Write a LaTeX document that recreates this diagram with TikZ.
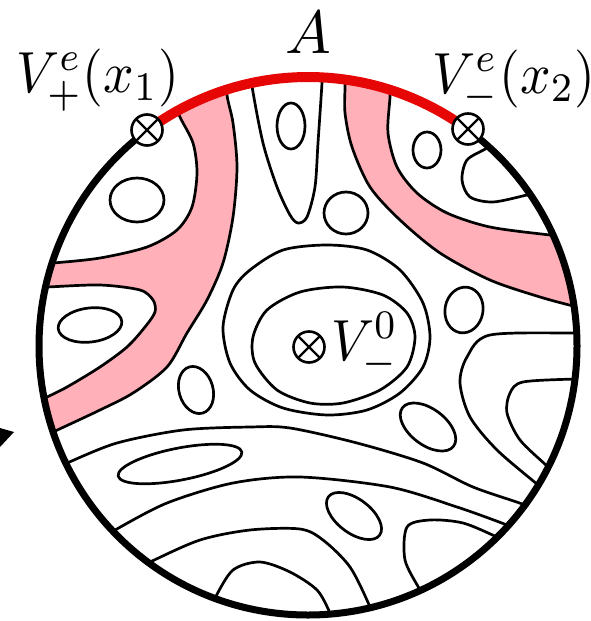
\documentclass[tikz,border=0pt]{standalone}
\definecolor{bandpink}{RGB}{255,176,185}
\definecolor{arcred}{RGB}{230,6,6}
\begin{document}
\begin{tikzpicture}[x=1pt,y=-1pt,
  cont/.style={line width=2.7pt, line join=round},
  mk/.style={circle, draw, fill=white, line width=2.6pt, minimum size=31pt, inner sep=0pt,
    path picture={\draw[line width=2.4pt] (path picture bounding box.north west) -- (path picture bounding box.south east) (path picture bounding box.north east) -- (path picture bounding box.south west);}},
  lbl/.style={inner sep=0pt, xscale=5.35, yscale=5.8, transform shape}]
\useasboundingbox (0,0) rectangle (591,621);
\begin{scope}
\clip (308,346) circle[radius=269];
% pink fills
\fill[bandpink] plot[smooth] coordinates {(225,60) (227,95) (233,123) (237,167) (233,217) (223,263) (207,300) (187,333) (167,367) (133,393) (100,410) (53,432) (20,447)} -- (0,460) -- (0,0) -- (225,0) -- cycle;
\fill[white] plot[smooth] coordinates {(172,95) (180,117) (193,143) (197,173) (192,207) (177,230) (147,247) (100,258) (53,263) (20,265)} -- (0,265) -- (0,0) -- (172,0) -- cycle;
\fill[white] plot[smooth] coordinates {(20,288) (47,287) (100,285) (140,290) (153,300) (155,312) (145,327) (127,347) (100,367) (67,387) (45,398) (20,410)} -- (0,410) -- (0,288) -- cycle;
\fill[bandpink] plot[smooth] coordinates {(344,60) (345,85) (345,113) (352,147) (370,187) (400,220) (440,253) (490,280) (540,297) (577,307) (610,315)} -- (620,315) -- (620,0) -- (344,0) -- cycle;
\fill[white] plot[smooth] coordinates {(391,70) (390,97) (388,133) (397,167) (417,193) (447,213) (490,227) (550,235) (600,240)} -- (620,240) -- (620,0) -- (391,0) -- cycle;
% band boundaries
\draw[cont] plot[smooth] coordinates {(225,60) (227,95) (233,123) (237,167) (233,217) (223,263) (207,300) (187,333) (167,367) (133,393) (100,410) (53,432) (20,447)};
\draw[cont] plot[smooth] coordinates {(172,95) (180,117) (193,143) (197,173) (192,207) (177,230) (147,247) (100,258) (53,263) (20,265)};
\draw[cont] plot[smooth] coordinates {(20,288) (47,287) (100,285) (140,290) (153,300) (155,312) (145,327) (127,347) (100,367) (67,387) (45,398) (20,410)};
\draw[cont] plot[smooth] coordinates {(344,60) (345,85) (345,113) (352,147) (370,187) (400,220) (440,253) (490,280) (540,297) (577,307) (610,315)};
\draw[cont] plot[smooth] coordinates {(391,70) (390,97) (388,133) (397,167) (417,193) (447,213) (490,227) (550,235) (600,240)};
% top U
\draw[cont] plot[smooth] coordinates {(250,60) (252,86) (263,143) (277,187) (290,215) (298,223) (307,217) (315,187) (318,143) (322,83) (323,60)};
% upper right small U
\draw[cont] plot[smooth] coordinates {(500,138) (487,148) (467,160) (462,180) (470,197) (493,202) (527,195) (545,191)};
% lower lines
\draw[cont] plot[smooth] coordinates {(40,475) (67,463) (117,443) (183,430) (250,427) (290,428) (357,443) (423,463) (473,487) (525,505) (550,517)};
\draw[cont] plot[smooth] coordinates {(95,542) (115,530) (167,503) (233,483) (300,477) (390,487) (457,507) (507,525) (530,535)};
\draw[cont] plot[smooth] coordinates {(130,572) (150,562) (200,540) (250,530) (300,529) (323,540) (350,567) (370,607) (375,625)};
\draw[cont] plot[smooth] coordinates {(208,615) (215,598) (233,570) (260,562) (290,572) (317,590) (330,613) (336,630)};
\draw[cont] plot[smooth] coordinates {(428,605) (420,590) (405,560) (407,527) (430,520) (463,523) (497,537) (520,548)};
% right curves
\draw[cont] plot[smooth] coordinates {(600,333) (577,333) (490,335) (467,357) (460,383) (470,417) (497,450) (538,485) (555,500)};
\draw[cont] plot[smooth] coordinates {(600,379) (575,379) (523,382) (510,393) (507,413) (520,440) (548,467) (560,480)};
% central closed curves
\draw[cont] plot[smooth cycle] coordinates {(327,245) (367,250) (400,270) (423,303) (430,337) (423,367) (400,393) (367,410) (327,415) (283,408) (250,390) (230,363) (223,327) (233,290) (250,270) (283,250)};
\draw[cont] plot[smooth cycle] coordinates {(343,287) (383,295) (407,313) (415,337) (407,367) (380,390) (343,403) (310,403) (277,390) (255,363) (253,337) (267,310) (300,292)};
% small ovals
\draw[cont] (137,200) ellipse[x radius=27, y radius=22];
\draw[cont] (291,126) ellipse[x radius=14, y radius=23];
\draw[cont] (346,213) ellipse[x radius=22, y radius=21];
\draw[cont] (427,150) ellipse[x radius=14, y radius=18];
\draw[cont, rotate around={-10:(464,310)}] (464,310) ellipse[x radius=19, y radius=23];
\draw[cont, rotate around={7:(90,325)}] (90,325) ellipse[x radius=32, y radius=17];
\draw[cont, rotate around={16:(196,390)}] (196,390) ellipse[x radius=17, y radius=24];
\draw[cont, rotate around={-37:(428,427)}] (428,427) ellipse[x radius=32, y radius=18];
\draw[cont, rotate around={11:(180,464)}] (180,464) ellipse[x radius=63, y radius=16];
\draw[cont, rotate around={-37:(354,516)}] (354,516) ellipse[x radius=32, y radius=17];
\end{scope}
% boundary
\draw[line width=7pt] (308,346) circle[radius=269];
\draw[arcred, line width=10pt] plot[domain=233.3:306.7, samples=80] ({308+269*cos(\x)},{346+269*sin(\x)});
% markers
\node[mk] (m1) at (147,130) {};
\node[mk] (m2) at (468,129) {};
\node[mk] (m0) at (309,347) {};
% labels
\begin{scope}[shift={(15,92)}]
\node[lbl, anchor=base west] (l1) at (0,0) {$V^e_+(x_1)$};
\end{scope}
\begin{scope}[shift={(431,93)}]
\node[lbl, anchor=base west] (l2) at (0,0) {$V^e_-(x_2)$};
\end{scope}
\begin{scope}[shift={(308,53)}]
\node[inner sep=0pt, scale=6.1, transform shape, anchor=base] (la) at (0,0) {$A$};
\end{scope}
\begin{scope}[shift={(330,360)}]
\node[lbl, anchor=base west] (l0) at (0,0) {$V^0_-$};
\end{scope}
% arrow tip fragment
\fill (0,428) -- (14,432) -- (0,447) -- cycle;
\end{tikzpicture}
\end{document}
